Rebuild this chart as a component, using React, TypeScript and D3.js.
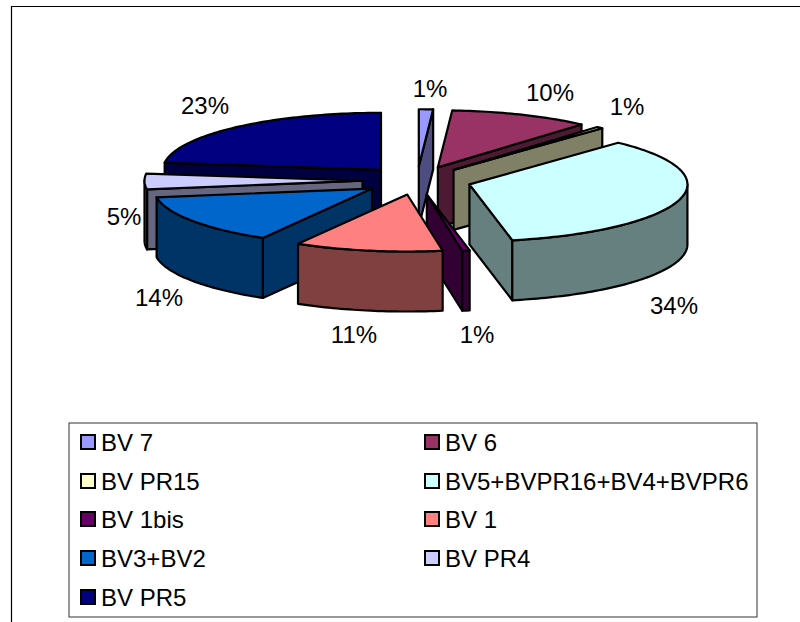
import React from "react";
import * as d3 from "d3";

const categories = ["BV 7", "BV 6", "BV PR15", "BV5+BVPR16+BV4+BVPR6", "BV 1bis", "BV 1", "BV3+BV2", "BV PR4", "BV PR5"];
const shares = [1.05, 10.4, 0.5, 34.9, 0.55, 10.95, 14.2, 4.45, 23.0];
const percentLabels = ["1%", "10%", "1%", "34%", "1%", "11%", "14%", "5%", "23%"];
const colors = ["#9999FF", "#993366", "#FFFFCC", "#CCFFFF", "#660066", "#FF8080", "#0066CC", "#CCCCFF", "#000080"];
const paintOrder = [8, 7, 0, 1, 2, 3, 4, 6, 5];

const FONT = "'Liberation Sans', Arial, sans-serif";
const cx = 417, cy = 180.5, rx = 218, ry = 57, depth = 60, explode = 0.25;
const labelAt: [number, number][] = [[430, 88], [550, 92], [627, 106], [674, 305], [477, 334], [354, 334], [159, 297], [124, 216], [205, 105]];

const darken = (c: string) => {
  const r = d3.rgb(c);
  return d3.rgb(r.r * 0.5, r.g * 0.5, r.b * 0.5).formatHex();
};

const pie = d3.pie<number>().sort(null).startAngle(0).endAngle(2 * Math.PI);
const lineGen = d3.line<[number, number]>();
const HALF = Math.PI / 2;

function arcPts(a0: number, a1: number, ax: number, ay: number, dy = 0): [number, number][] {
  const n = Math.max(2, Math.ceil(Math.abs(a1 - a0) / 0.02));
  return d3.range(n + 1).map((i) => {
    const t = a0 + ((a1 - a0) * i) / n;
    return [ax + rx * Math.sin(t), ay - ry * Math.cos(t) + dy] as [number, number];
  });
}

const Slice = ({ start, end, color }: { start: number; end: number; color: string }) => {
  const mid = (start + end) / 2;
  const ax = cx + explode * rx * Math.sin(mid);
  const ay = cy - explode * ry * Math.cos(mid);
  const side = darken(color);
  const rimAt = (t: number): [number, number] => [ax + rx * Math.sin(t), ay - ry * Math.cos(t)];
  const quad = (t: number) => {
    const p = rimAt(t);
    const pts: [number, number][] = [[ax, ay], p, [p[0], p[1] + depth], [ax, ay + depth]];
    return lineGen(pts) + "Z";
  };
  const parts: React.ReactNode[] = [];
  const strokeProps = { stroke: "#000", strokeWidth: 2.2, strokeLinejoin: "round" as const };
  if (Math.sin(start) < 0) parts.push(<path key="s" d={quad(start)} fill={side} {...strokeProps} />);
  if (Math.sin(end) > 0) parts.push(<path key="e" d={quad(end)} fill={side} {...strokeProps} />);
  const r0 = Math.max(start, HALF), r1 = Math.min(end, 3 * HALF);
  if (r1 > r0) {
    const top = arcPts(r0, r1, ax, ay);
    const bot = arcPts(r1, r0, ax, ay, depth);
    parts.push(<path key="r" d={lineGen([...top, ...bot]) + "Z"} fill={side} {...strokeProps} />);
  }
  const rim = arcPts(start, end, ax, ay);
  parts.push(<path key="t" d={lineGen([[ax, ay], ...rim]) + "Z"} fill={color} {...strokeProps} />);
  return <g>{parts}</g>;
};

const legendRows = [442, 481, 519, 558, 597];
const legendCols = [81, 425];

export default function App() {
  const arcs = pie(shares);
  return (
    <svg width={800} height={622} style={{ position: "absolute", left: 0, top: 0, background: "#fff" }} fontFamily={FONT}>
      <path d="M11.5 622V6.5H800" fill="none" stroke="#000" strokeWidth={1.2} />
      {paintOrder.map((i) => (
        <Slice key={i} start={arcs[i].startAngle} end={arcs[i].endAngle} color={colors[i]} />
      ))}
      {percentLabels.map((t, i) => (
        <text key={i} x={labelAt[i][0]} y={labelAt[i][1]} dy="0.36em" textAnchor="middle" fontSize={24} fill="#000">
          {t}
        </text>
      ))}
      <rect x={69} y={423} width={688} height={194} fill="#fff" stroke="#333" strokeWidth={1} />
      {categories.map((c, i) => {
        const x = legendCols[i % 2];
        const y = legendRows[Math.floor(i / 2)];
        return (
          <g key={c}>
            <rect x={x} y={y - 7} width={14} height={14} fill={colors[i]} stroke="#000" strokeWidth={2} />
            <text x={x + 20} y={y} dy="0.36em" fontSize={24} fill="#000">
              {c}
            </text>
          </g>
        );
      })}
    </svg>
  );
}
